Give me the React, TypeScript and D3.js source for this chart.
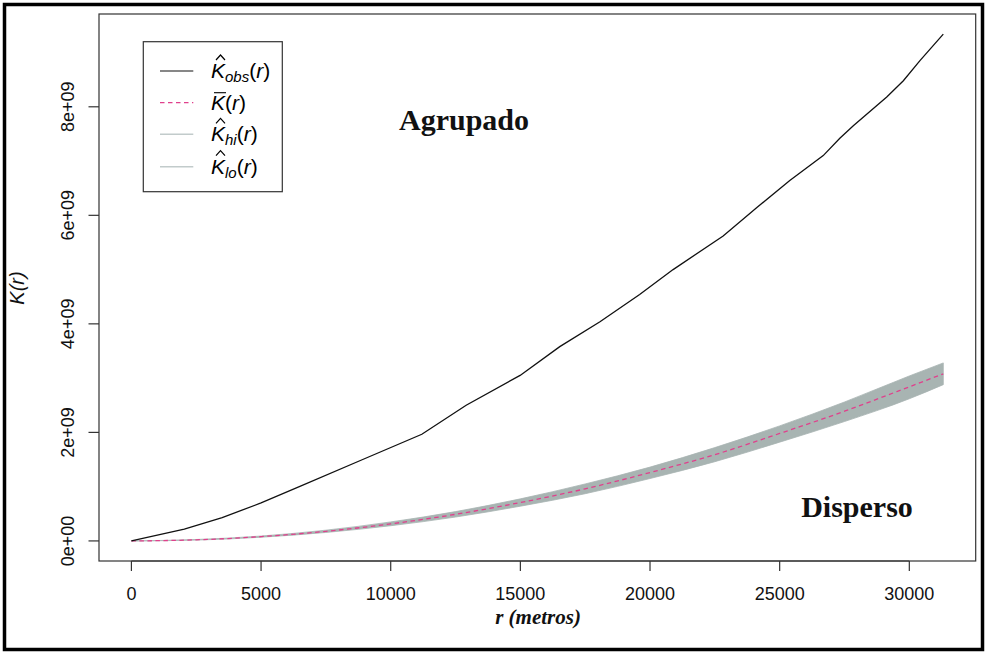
import React from "react";
import * as d3 from "d3";

const rObs = [0, 2040, 3500, 5000, 6475, 8920, 11200, 12910, 14990, 16520, 18070, 19600, 20890, 22820, 24110, 25390, 26680, 27320, 27840, 29130, 29770, 30410, 31310];
const kObs = [0, 2.16e8, 4.3e8, 7.0e8, 1.0e9, 1.5e9, 1.965e9, 2.5e9, 3.05e9, 3.58e9, 4.04e9, 4.54e9, 5.0e9, 5.62e9, 6.14e9, 6.64e9, 7.1e9, 7.42e9, 7.65e9, 8.18e9, 8.48e9, 8.85e9, 9.34e9];

const rSim = [0, 2500, 5000, 7500, 10000, 12500, 15000, 17500, 20000, 22500, 25000, 27500, 30000, 31310];
const kMean = [0, 2.0e7, 7.9e7, 1.77e8, 3.14e8, 4.9e8, 7.07e8, 9.6e8, 1.26e9, 1.59e9, 1.98e9, 2.39e9, 2.84e9, 3.08e9];
const kHi = [0, 2.6e7, 9.0e7, 1.98e8, 3.5e8, 5.4e8, 7.75e8, 1.05e9, 1.36e9, 1.72e9, 2.12e9, 2.56e9, 3.04e9, 3.28e9];
const kLo = [0, 1.5e7, 6.8e7, 1.56e8, 2.8e8, 4.4e8, 6.4e8, 8.7e8, 1.15e9, 1.46e9, 1.82e9, 2.2e9, 2.62e9, 2.88e9];

const xTicks = [0, 5000, 10000, 15000, 20000, 25000, 30000];
const yTicks = [0, 2e9, 4e9, 6e9, 8e9];
const yTickLabels = ["0e+00", "2e+09", "4e+09", "6e+09", "8e+09"];
const legendSubs = ["obs", "", "hi", "lo"];

const SANS = "'Liberation Sans', Arial, Helvetica, sans-serif";
const SERIF = "'Liberation Serif', 'Times New Roman', serif";

export default function App() {
  const W = 986, H = 652;
  const L = 99, R = 975.7, T = 14, B = 561;
  const x = d3.scaleLinear().domain([-1250, 32560]).range([L, R]);
  const y = d3.scaleLinear().domain([-0.37e9, 9.71e9]).range([B, T]);

  const obsLine = d3.line<number>().x((_, i) => x(rObs[i])).y((d) => y(d))(kObs) || "";
  const meanLine = d3.line<number>().x((_, i) => x(rSim[i])).y((d) => y(d)).curve(d3.curveMonotoneX)(kMean) || "";
  const band = d3
    .area<number>()
    .x((_, i) => x(rSim[i]))
    .y0((_, i) => y(kLo[i]))
    .y1((d) => y(d))
    .curve(d3.curveMonotoneX)(kHi) || "";

  const legendRows = [71, 102.7, 134.3, 166.7];
  const legX0 = 160, legX1 = 193.3, txtX = 211;
  const legendColors = ["#111", "#e0408c", "#c2cbcb", "#c2cbcb"];

  return (
    <svg width={W} height={H} style={{ position: "absolute", left: 0, top: 0, background: "#fff" }}>
      <rect x={0} y={0} width={W} height={H} fill="#fff" />
      {/* outer frame */}
      <rect x={4.5} y={4.5} width={978} height={645} fill="none" stroke="#000" strokeWidth={3.5} />

      {/* envelope */}
      <path d={band} fill="#a8b4b2" stroke="#a8b4b2" strokeWidth={0.8} />
      <path d={meanLine} fill="none" stroke="#e0408c" strokeWidth={1.3} strokeDasharray="4.5,3.5" />
      <path d={obsLine} fill="none" stroke="#111" strokeWidth={1.3} />

      {/* plot box */}
      <rect x={L} y={T} width={R - L} height={B - T} fill="none" stroke="#333" strokeWidth={1.2} />

      {/* x axis */}
      <line x1={x(xTicks[0])} x2={x(xTicks[xTicks.length - 1])} y1={B} y2={B} stroke="#333" strokeWidth={1.2} />
      {xTicks.map((t) => (
        <g key={t}>
          <line x1={x(t)} x2={x(t)} y1={B} y2={B + 10} stroke="#333" strokeWidth={1.2} />
          <text x={x(t)} y={600} textAnchor="middle" fontFamily={SANS} fontSize={18} fill="#111">{t}</text>
        </g>
      ))}

      {/* y axis */}
      {yTicks.map((t, i) => (
        <g key={t}>
          <line x1={L - 10.5} x2={L} y1={y(t)} y2={y(t)} stroke="#333" strokeWidth={1.2} />
          <text
            transform={`translate(74,${y(t)}) rotate(-90)`}
            textAnchor="middle"
            fontFamily={SANS}
            fontSize={18}
            fill="#111"
          >
            {yTickLabels[i]}
          </text>
        </g>
      ))}

      {/* axis titles */}
      <text transform="translate(24,288) rotate(-90)" textAnchor="middle" fontFamily={SANS} fontSize={20} fontStyle="italic" fill="#111">
        K(r)
      </text>
      <text x={538} y={624} textAnchor="middle" fontFamily={SERIF} fontSize={21} fontStyle="italic" fontWeight="bold" fill="#111">
        r (metros)
      </text>

      {/* annotations */}
      <text x={464} y={130} textAnchor="middle" fontFamily={SERIF} fontSize={30} fontWeight="bold" fill="#111">Agrupado</text>
      <text x={857} y={517} textAnchor="middle" fontFamily={SERIF} fontSize={30} fontWeight="bold" fill="#111">Disperso</text>

      {/* legend */}
      <rect x={143.3} y={41.7} width={139} height={150} fill="#fff" stroke="#333" strokeWidth={1.2} />
      {legendRows.map((ry, i) => (
        <g key={i}>
          <line
            x1={legX0}
            x2={legX1}
            y1={ry}
            y2={ry}
            stroke={legendColors[i]}
            strokeWidth={i >= 2 ? 1.6 : 1.2}
            strokeDasharray={i === 1 ? "4.5,3.5" : undefined}
          />
          {i === 1 ? (
            <line x1={txtX + 3} x2={txtX + 15} y1={ry - 10} y2={ry - 10} stroke="#000" strokeWidth={1.1} />
          ) : (
            <path
              d={`M${txtX + 5},${ry - 11} L${txtX + 9.5},${ry - 16} L${txtX + 14},${ry - 11}`}
              fill="none"
              stroke="#000"
              strokeWidth={1.2}
            />
          )}
          <text x={txtX} y={ry + 7} fontFamily={SANS} fontSize={21} fontStyle="italic" fill="#000">
            K
            {legendSubs[i] ? <tspan fontSize={15} dy={4}>{legendSubs[i]}</tspan> : null}
            <tspan dy={legendSubs[i] ? -4 : 0} fontStyle="normal">(</tspan>r<tspan fontStyle="normal">)</tspan>
          </text>
        </g>
      ))}
    </svg>
  );
}
